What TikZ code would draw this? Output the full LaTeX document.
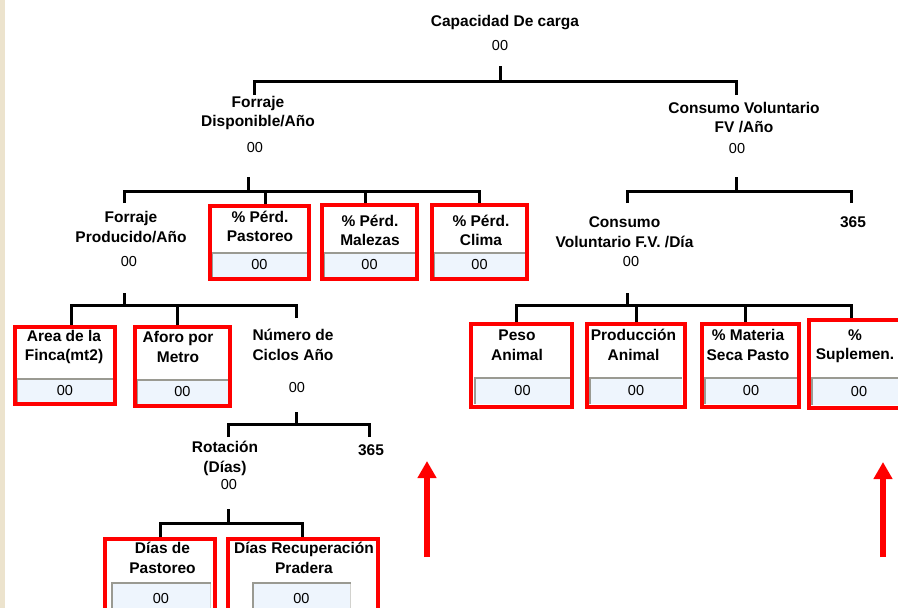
\documentclass[tikz,border=0pt]{standalone}
\usepackage{fontspec}
\setmainfont{Liberation Sans}
\usetikzlibrary{arrows.meta}
\definecolor{boxred}{HTML}{FF0000}
\definecolor{fieldblue}{HTML}{EEF5FD}
\definecolor{fieldgray}{HTML}{9A9A92}
\definecolor{sidebeige}{HTML}{ECE3CD}
\tikzset{
  lbl/.style={font=\fontsize{15.5}{19.5}\selectfont\bfseries, align=center, inner sep=0pt},
  val/.style={font=\fontsize{14.5}{16}\selectfont, inner sep=0pt},
  redbox/.style={draw=boxred, line width=4pt, inner sep=0pt},
  field/.style={fill=fieldblue, inner sep=0pt, font=\fontsize{14.5}{16}\selectfont},
  fieldedge/.style={draw=fieldgray, line width=2pt},
  tree/.style={line width=3pt},
  uparrow/.style={draw=boxred, line width=6pt, -{Triangle[length=17pt,width=18pt]}}
}
\begin{document}
\begin{tikzpicture}[x=1pt, y=-1pt]
    \useasboundingbox (0,0) rectangle (898,608);
    \clip (0,0) rectangle (898,608);
    \fill[sidebeige] (0,0) rectangle (5,608);

    % top
    \node[lbl] (CC) at (505,23) {Capacidad De carga};
    \node[val] (CCv) at (500,46) {00};
    \coordinate (CCs) at (500,66);
    \coordinate (CCj) at (500,81);

    \node[lbl] (FD) at (258,113) {Forraje\\Disponible/Año};
    \node[val] (FDv) at (255,148) {00};
    \coordinate (FDt) at (254,95);
    \coordinate (FDs) at (248,177);
    \coordinate (FDj) at (248,191);

    \node[lbl] (CV) at (744,117.5) {Consumo Voluntario\\FV /Año};
    \node[val] (CVv) at (737,149) {00};
    \coordinate (CVt) at (736,95);
    \coordinate (CVs) at (736,177);
    \coordinate (CVj) at (736,191);

    % forraje disponible
    \node[lbl] (FP) at (131,227) {Forraje\\Producido/Año};
    \node[val] (FPv) at (129,262) {00};
    \coordinate (FPt) at (124,203);
    \coordinate (FPs) at (124,293);
    \coordinate (FPj) at (124,305);

    \node[field, minimum width=95pt, minimum height=24pt] (PPf) at (259.5,265) {00};
    \draw[fieldedge] (PPf.south west) |- (PPf.north east);
    \node[redbox, minimum width=99pt, minimum height=73pt] (PP) at (259.5,242.5) {};
    \node[lbl] (PPl) at (260,226.5) {\% Pérd.\\Pastoreo};

    \node[field, minimum width=91pt, minimum height=24pt] (PMf) at (369.5,265) {00};
    \draw[fieldedge] (PMf.south west) |- (PMf.north east);
    \node[redbox, minimum width=95pt, minimum height=74pt] (PM) at (369.5,242) {};
    \node[lbl] (PMl) at (370,230.5) {\% Pérd.\\Malezas};

    \node[field, minimum width=91pt, minimum height=24pt] (PCf) at (479.5,265) {00};
    \draw[fieldedge] (PCf.south west) |- (PCf.north east);
    \node[redbox, minimum width=95pt, minimum height=74pt] (PC) at (479.5,242) {};
    \node[lbl] (PCl) at (481,230.5) {\% Pérd.\\Clima};

    % consumo voluntario
    \node[lbl] (CD) at (624.5,232) {Consumo\\Voluntario F.V. /Día};
    \node[val] (CDv) at (631,262) {00};
    \coordinate (CDt) at (627,203);
    \coordinate (CDs) at (627,293);
    \coordinate (CDj) at (627,305);

    \node[lbl] (C3) at (853,222) {365};
    \coordinate (C3t) at (851,203);

    % forraje producido
    \node[field, minimum width=96pt, minimum height=23pt] (AFf) at (65,390.5) {00};
    \draw[fieldedge] (AFf.south west) |- (AFf.north east);
    \node[redbox, minimum width=100pt, minimum height=77pt] (AF) at (65,365.5) {};
    \node[lbl] (AFl) at (64,347) {Area de la\\Finca(mt2)};

    \node[field, minimum width=91pt, minimum height=24pt] (APf) at (182.5,392) {00};
    \draw[fieldedge] (APf.south west) |- (APf.north east);
    \node[redbox, minimum width=95pt, minimum height=79pt] (AP) at (182.5,366.5) {};
    \node[lbl] (APl) at (178,347) {Aforo por\\Metro};

    \node[lbl] (NC) at (293,345) {Número de\\Ciclos Año};
    \node[val] (NCv) at (297,388) {00};
    \coordinate (NCt) at (296,318);
    \coordinate (NCs) at (296,412);
    \coordinate (NCj) at (296,424);

    % numero de ciclos
    \node[lbl] (RO) at (225,458.5) {Rotación\\(Días)};
    \node[val] (ROv) at (229,485) {00};
    \coordinate (ROt) at (228,437);
    \coordinate (ROs) at (228,509);
    \coordinate (ROj) at (228,523);

    \node[lbl] (R3) at (371,450) {365};
    \coordinate (R3t) at (369,437);

    % rotacion
    \node[field, draw=fieldgray!45, line width=1pt, minimum width=98pt, minimum height=32pt] (DPf) at (161,599) {00};
    \draw[fieldedge] (DPf.south west) |- (DPf.north east);
    \node[redbox, minimum width=110pt, minimum height=80pt] (DP) at (160,579) {};
    \node[lbl] (DPl) at (162.5,558) {Días de\\Pastoreo};

    \node[field, draw=fieldgray!45, line width=1pt, minimum width=97pt, minimum height=32pt] (DRf) at (301.5,599) {00};
    \draw[fieldedge] (DRf.south west) |- (DRf.north east);
    \node[redbox, minimum width=150pt, minimum height=80pt] (DR) at (303,579) {};
    \node[lbl] (DRl) at (304,558) {Días Recuperación\\Pradera};

    % consumo por dia
    \node[field, minimum width=95pt, minimum height=26pt] (PAf) at (522.5,391) {00};
    \draw[fieldedge] (PAf.south west) |- (PAf.north east);
    \node[redbox, minimum width=101pt, minimum height=83pt] (PA) at (521.5,365.5) {};
    \node[lbl] (PAl) at (517,345) {Peso\\Animal};

    \node[field, minimum width=92pt, minimum height=26pt] (PRf) at (636,391) {00};
    \draw[fieldedge] (PRf.south west) |- (PRf.north east);
    \node[redbox, minimum width=98pt, minimum height=83pt] (PR) at (636,365.5) {};
    \node[lbl] (PRl) at (633.5,345) {Producción\\Animal};

    \node[field, minimum width=92pt, minimum height=26pt] (MSf) at (751,391) {00};
    \draw[fieldedge] (MSf.south west) |- (MSf.north east);
    \node[redbox, minimum width=97pt, minimum height=83pt] (MS) at (750.5,365.5) {};
    \node[lbl] (MSl) at (748,345) {\% Materia\\Seca Pasto};

    \node[field, minimum width=94pt, minimum height=27pt] (SUf) at (859,391.5) {00};
    \draw[fieldedge] (SUf.south west) |- (SUf.north east);
    \node[redbox, minimum width=100pt, minimum height=88pt] (SU) at (859,364) {};
    \node[lbl] (SUl) at (855,346) {\%\\Suplemen.};

    % connectors
    \draw[tree] (CCs) -- (CCj);
    \draw[tree] (FDt) |- (CCj);
    \draw[tree] (CVt) |- (CCj);

    \draw[tree] (FDs) -- (FDj);
    \draw[tree] (FPt) |- (FDj);
    \draw[tree] ([xshift=5.5pt]PP.north) |- (FDj);
    \draw[tree] ([xshift=-4.5pt]PM.north) |- (FDj);
    \draw[tree] (PC.north) |- (FDj);

    \draw[tree] (CVs) -- (CVj);
    \draw[tree] (CDt) |- (CVj);
    \draw[tree] (C3t) |- (CVj);

    \draw[tree] (FPs) -- (FPj);
    \draw[tree] ([xshift=6pt]AF.north) |- (FPj);
    \draw[tree] ([xshift=-5.5pt]AP.north) |- (FPj);
    \draw[tree] (NCt) |- (FPj);

    \draw[tree] (NCs) -- (NCj);
    \draw[tree] (ROt) |- (NCj);
    \draw[tree] (R3t) |- (NCj);

    \draw[tree] (ROs) -- (ROj);
    \draw[tree] (DP.north) |- (ROj);
    \draw[tree] ([xshift=-1pt]DR.north) |- (ROj);

    \draw[tree] (CDs) -- (CDj);
    \draw[tree] ([xshift=-5.5pt]PA.north) |- (CDj);
    \draw[tree] (PR.north) |- (CDj);
    \draw[tree] ([xshift=-5.5pt]MS.north) |- (CDj);
    \draw[tree] ([xshift=-8pt]SU.north) |- (CDj);

    % arrows
    \coordinate (A1s) at (427,557);
    \coordinate (A1e) at (427,461);
    \coordinate (A2s) at (883,557);
    \coordinate (A2e) at (883,462);
    \draw[uparrow] (A1s) -- (A1e);
    \draw[uparrow] (A2s) -- (A2e);
\end{tikzpicture}
\end{document}
